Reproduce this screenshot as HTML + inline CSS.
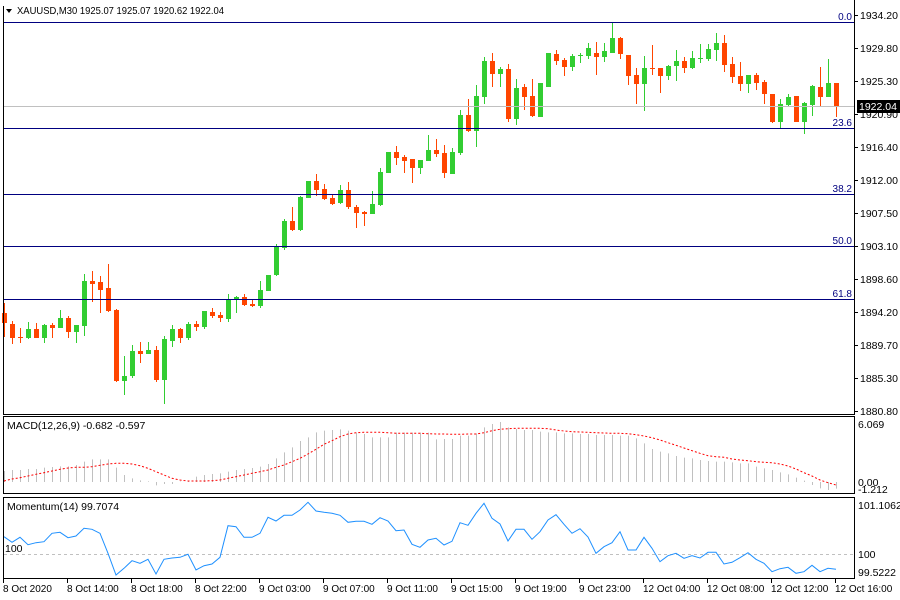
<!DOCTYPE html>
<html><head><meta charset="utf-8"><style>
html,body{margin:0;padding:0;background:#fff;}
svg{display:block;font-family:"Liberation Sans",sans-serif;font-size:11px;}
</style></head><body>
<svg id="s" width="900" height="600" xmlns="http://www.w3.org/2000/svg">
<rect width="900" height="600" fill="#fff"/>
<g id="g"></g>
<line x1="3.5" y1="6" x2="3.5" y2="414" stroke="#000"/>
<line x1="854.5" y1="0" x2="854.5" y2="414" stroke="#000"/>
<line x1="3" y1="414.5" x2="855" y2="414.5" stroke="#000"/>
<rect x="3.5" y="416.5" width="851" height="77" fill="none" stroke="#000"/>
<rect x="3.5" y="497.5" width="851" height="81" fill="none" stroke="#000"/>
<g stroke="#000080" stroke-width="1">
<line x1="4" y1="22.5" x2="854" y2="22.5"/>
<line x1="4" y1="128.5" x2="854" y2="128.5"/>
<line x1="4" y1="194.5" x2="854" y2="194.5"/>
<line x1="4" y1="246.5" x2="854" y2="246.5"/>
<line x1="4" y1="299.5" x2="854" y2="299.5"/>
</g>
<line x1="4" y1="106.5" x2="854" y2="106.5" stroke="#c0c0c0"/>
<g fill="#000080" text-anchor="end" font-size="10">
<text x="852" y="20">0.0</text>
<text x="852" y="126">23.6</text>
<text x="852" y="192">38.2</text>
<text x="852" y="244">50.0</text>
<text x="852" y="297">61.8</text>
</g>
<path d="M6 9 L12 9 L9 13 Z" fill="#000"/>
<text x="17" y="14" font-size="10.5" textLength="207" lengthAdjust="spacingAndGlyphs">XAUUSD,M30  1925.07 1925.07 1920.62 1922.04</text>
<text x="7" y="429" font-size="10.5">MACD(12,26,9) -0.682 -0.597</text>
<text x="7" y="510" font-size="10.5">Momentum(14) 99.7074</text>
<text x="5" y="552" font-size="10.5">100</text>
<g font-size="10.5">
<text x="860" y="19">1934.20</text>
<text x="860" y="52">1929.80</text>
<text x="860" y="85">1925.30</text>
<text x="860" y="118">1920.90</text>
<text x="860" y="151">1916.40</text>
<text x="860" y="184">1912.00</text>
<text x="860" y="217">1907.50</text>
<text x="860" y="250">1903.10</text>
<text x="860" y="283">1898.60</text>
<text x="860" y="316">1894.20</text>
<text x="860" y="349">1889.70</text>
<text x="860" y="382">1885.30</text>
<text x="860" y="415">1880.80</text>
<text x="858" y="428">6.069</text>
<text x="858" y="486">0.00</text>
<text x="858" y="493">-1.212</text>
<text x="858" y="509">101.1062</text>
<text x="858" y="558">100</text>
<text x="858" y="576">99.5222</text>
</g>
<g stroke="#000">
<line x1="855" y1="15.5" x2="858" y2="15.5"/><line x1="855" y1="48.5" x2="858" y2="48.5"/>
<line x1="855" y1="81.5" x2="858" y2="81.5"/><line x1="855" y1="114.5" x2="858" y2="114.5"/>
<line x1="855" y1="147.5" x2="858" y2="147.5"/><line x1="855" y1="180.5" x2="858" y2="180.5"/>
<line x1="855" y1="213.5" x2="858" y2="213.5"/><line x1="855" y1="246.5" x2="858" y2="246.5"/>
<line x1="855" y1="279.5" x2="858" y2="279.5"/><line x1="855" y1="312.5" x2="858" y2="312.5"/>
<line x1="855" y1="345.5" x2="858" y2="345.5"/><line x1="855" y1="378.5" x2="858" y2="378.5"/>
<line x1="855" y1="411.5" x2="858" y2="411.5"/>
</g>
<rect x="857" y="100" width="43" height="13" fill="#000"/>
<text x="859" y="110" fill="#fff" font-size="10.5">1922.04</text>
<g font-size="10">
<text x="3" y="592">8 Oct 2020</text>
<text x="67" y="592">8 Oct 14:00</text>
<text x="131" y="592">8 Oct 18:00</text>
<text x="195" y="592">8 Oct 22:00</text>
<text x="259" y="592">9 Oct 03:00</text>
<text x="323" y="592">9 Oct 07:00</text>
<text x="387" y="592">9 Oct 11:00</text>
<text x="451" y="592">9 Oct 15:00</text>
<text x="515" y="592">9 Oct 19:00</text>
<text x="579" y="592">9 Oct 23:00</text>
<text x="643" y="592">12 Oct 04:00</text>
<text x="707" y="592">12 Oct 08:00</text>
<text x="771" y="592">12 Oct 12:00</text>
<text x="835" y="592">12 Oct 16:00</text>
</g>
</svg>
<script>
var C=[[303,337,313,323,0],[321,344,324,338,0],[328,343,337,338,0],[322,339,329,338,1],[323,338,329,338,0],[324,343,325,338,1],[323,338,325,328,0],[310,328,318,328,1],[316,338,318,332,0],[325,343,325,332,1],
[274,336,281,326,1],[271,302,281,284,0],[276,313,282,290,0],[264,312,288,311,0],[309,382,310,381,0],[356,395,376,381,1],[345,378,351,376,1],[342,363,351,354,0],[342,354,350,354,1],[346,382,350,380,0],
[336,404,339,380,1],[325,347,329,341,1],[328,343,329,338,0],[322,340,324,338,1],[321,331,324,327,0],[311,329,311,327,1],[308,318,312,316,0],[312,322,315,318,0],[294,322,300,319,1],[296,313,297,300,1],
[294,306,297,305,0],[300,307,304,306,0],[281,308,290,306,1],[275,291,275,291,1],[244,276,246,275,1],[219,250,221,248,1],[207,231,221,230,0],[196,231,197,230,1],[181,198,181,198,1],[174,196,181,190,0],
[184,200,189,199,0],[194,205,198,204,0],[185,204,190,203,1],[182,209,190,207,0],[205,228,207,213,0],[211,226,212,214,0],[191,214,204,214,1],[168,206,172,205,1],[152,173,152,173,1],[146,165,152,158,0],
[155,173,157,161,0],[159,183,159,168,0],[160,174,160,168,1],[135,161,150,161,1],[139,157,150,154,0],[145,178,153,173,0],[148,174,152,174,1],[110,155,115,153,1],[99,132,115,131,0],[85,147,96,131,1],
[57,104,61,97,1],[53,87,61,74,0],[67,87,69,74,1],[64,122,69,119,0],[79,125,88,119,1],[84,110,87,97,0],[79,117,96,116,0],[83,117,83,117,1],[53,87,53,87,1],[50,65,54,61,0],
[58,76,60,67,0],[54,71,56,67,1],[53,63,55,56,1],[43,59,48,56,1],[42,75,53,57,0],[43,62,51,57,1],[22,53,38,53,1],[37,59,38,54,0],[55,85,55,76,0],[68,104,75,84,0],
[56,111,68,84,1],[45,75,68,69,0],[68,93,68,76,0],[65,80,66,76,1],[50,81,61,66,1],[57,73,61,68,0],[51,69,58,68,1],[44,63,58,59,1],[44,61,49,59,1],[33,61,43,50,1],
[35,72,43,65,0],[57,83,64,77,0],[62,91,76,84,0],[75,93,75,84,1],[73,90,75,83,0],[80,104,82,94,0],[94,123,94,122,0],[99,128,104,122,1],[94,106,97,105,1],[96,122,96,122,0],
[102,134,103,122,1],[85,116,86,105,1],[67,107,87,97,0],[59,97,83,97,1],[83,117,83,107,0]];
var H=[183,180,180,177,177,173,171,169,169,165,155,148,148,148,173,195,205,211,214,226,222,222,215,212,200,195,192,190,185,180,177,174,170,162,145,127,112,93,82,67,62,60,58,62,68,72,82,82,82,68,68,68,68,68,88,
87,87,77,77,70,52,42,36,52,57,60,60,65,67,67,70,70,72,72,75,75,75,77,77,85,100,117,125,130,138,143,145,150,153,155,155,157,160,160,170,175,180,187,193,203,212,225,235,240,236];
var S=[213,207,203,198,193,188,183,178,174,172,172,170,166,162,160,160,162,167,175,185,195,205,210,213,213,213,212,210,205,200,195,190,185,180,172,165,155,145,132,118,103,92,80,72,68,67,67,67,68,70,70,70,70,71,72,
72,73,73,72,72,68,62,58,56,55,55,55,55,56,60,63,65,66,67,68,69,70,70,71,74,78,83,90,98,106,114,122,130,137,140,142,147,150,152,155,157,158,162,168,177,188,198,210,218,225];
var M=[380,397,382,404,398,395,370,367,383,378,355,358,370,430,495,475,452,460,448,492,448,444,442,433,480,467,462,442,347,350,382,382,370,322,333,316,316,300,277,303,307,310,316,337,334,334,343,323,333,362,360,403,412,390,385,
405,394,338,346,310,280,325,342,393,358,358,388,365,330,314,343,370,356,381,430,410,398,365,420,420,382,415,455,437,430,445,437,444,427,427,462,457,443,428,448,460,485,476,472,490,485,466,485,475,478];
var o='',i,x,base=482;
for(i=0;i<C.length;i++){x=4+8*i;var c=C[i],col=c[4]?'#32cd32':'#ff4500';
o+='<line x1="'+(x+0.5)+'" y1="'+c[0]+'" x2="'+(x+0.5)+'" y2="'+c[1]+'" stroke="'+col+'"/>';
var h=Math.max(1,c[3]-c[2]);o+='<rect x="'+(x-2)+'" y="'+c[2]+'" width="5" height="'+h+'" fill="'+col+'"/>';}
for(i=0;i<H.length;i++){x=4.5+8*i;var t=410+H[i]/3;o+='<line x1="'+x+'" y1="'+Math.min(t,base)+'" x2="'+x+'" y2="'+Math.max(t,base)+'" stroke="#c0c0c0"/>';}
var p=[];for(i=0;i<S.length;i++)p.push((4+8*i)+','+(410+S[i]/3).toFixed(1));
o+='<polyline points="'+p.join(' ')+'" fill="none" stroke="#ff0000" stroke-dasharray="2,2"/>';
o+='<line x1="4" y1="554.5" x2="854" y2="554.5" stroke="#c0c0c0" stroke-dasharray="3,3"/>';
p=[];for(i=0;i<M.length;i++)p.push((4+8*i)+','+(410+M[i]/3).toFixed(1));
o+='<polyline points="'+p.join(' ')+'" fill="none" stroke="#1e90ff"/>';
for(i=0;i<14;i++){x=3.5+64*i;o+='<line x1="'+x+'" y1="579" x2="'+x+'" y2="583" stroke="#000"/>';}
document.getElementById('g').innerHTML=o;
</script>
</body></html>
